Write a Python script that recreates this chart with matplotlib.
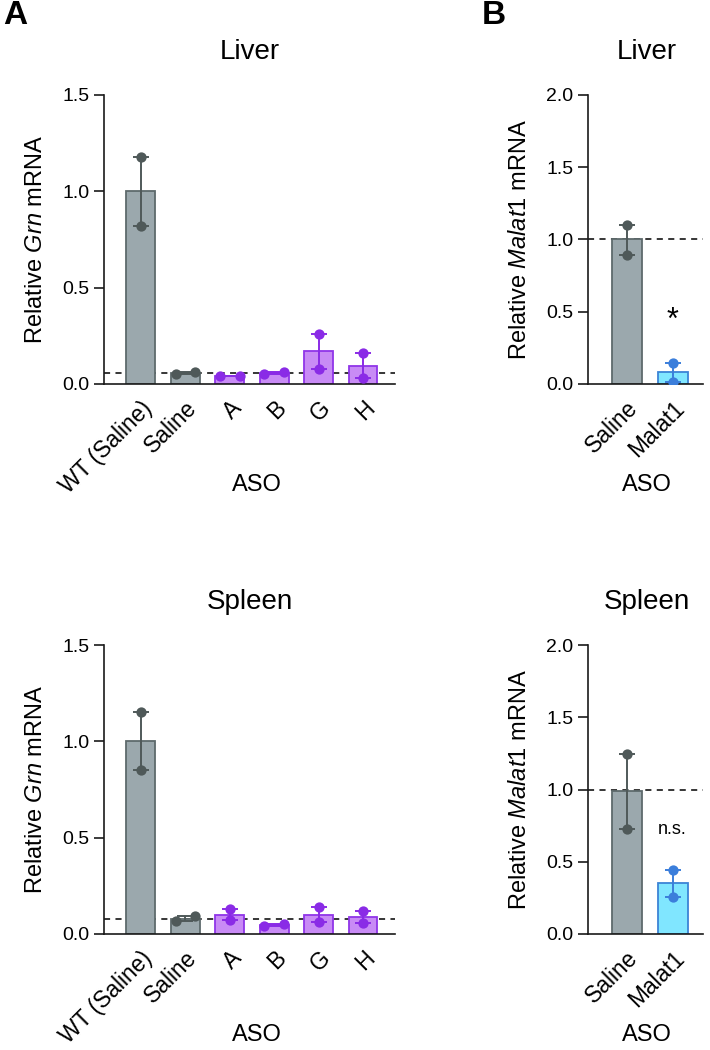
import matplotlib
matplotlib.use("Agg")
import matplotlib.pyplot as plt
import matplotlib.transforms as mtransforms
import numpy as np

plt.rcParams['font.family'] = ['Liberation Sans', 'DejaVu Sans']
plt.rcParams['mathtext.fontset'] = 'custom'
plt.rcParams['mathtext.rm'] = 'Liberation Sans'
plt.rcParams['mathtext.it'] = 'Liberation Sans:italic'

# ---------------- data ----------------
grn_groups = ["WT (Saline)", "Saline", "A", "B", "G", "H"]
grn_liver_bars = [1.00, 0.055, 0.04, 0.055, 0.17, 0.095]
grn_liver_pts = [[1.18, 0.82], [0.05, 0.06], [0.04, 0.04], [0.05, 0.06], [0.26, 0.08], [0.16, 0.03]]
grn_spleen_bars = [1.00, 0.08, 0.10, 0.045, 0.10, 0.087]
grn_spleen_pts = [[1.15, 0.85], [0.066, 0.094], [0.13, 0.075], [0.04, 0.05], [0.14, 0.06], [0.118, 0.057]]
grn_liver_ref = 0.055
grn_spleen_ref = 0.08

malat_groups = ["Saline", "Malat1"]
malat_liver_bars = [1.00, 0.08]
malat_liver_pts = [[1.10, 0.89], [0.143, 0.016]]
malat_spleen_bars = [0.99, 0.35]
malat_spleen_pts = [[1.247, 0.73], [0.44, 0.256]]
malat_ref = 1.0

grn_kinds = ["gray", "gray", "purple", "purple", "purple", "purple"]
malat_kinds = ["gray", "blue"]

# ---------------- style ----------------
STY = {
    "gray": dict(fill="#9BA8AD", edge="#5E6A6C", pt="#4F5959"),
    "purple": dict(fill="#C88BF5", edge="#9035E8", pt="#8A2BE6"),
    "blue": dict(fill="#80E6FF", edge="#3C84D6", pt="#3B7EDB"),
}

W, H = 710, 1050
fig = plt.figure(figsize=(W / 100, H / 100), dpi=100)


def add_ax(left, right, top, bottom):
    return fig.add_axes([left / W, 1 - bottom / H, (right - left) / W, (bottom - top) / H])


def ftext(x, y, s, **kw):
    fig.text(x / W, 1 - y / H, s, **kw)


def draw(ax, groups, bars, pts, kinds, ref, ylim, yticks, xlim, ylabel, jitter_thr, ylabel_x):
    x = np.arange(len(groups))
    for i, (b, p, k) in enumerate(zip(bars, pts, kinds)):
        st = STY[k]
        ax.bar(x[i], b, width=0.65, color=st["fill"], edgecolor=st["edge"], linewidth=1.3, zorder=2)
        lo, hi = min(p), max(p)
        ax.errorbar(x[i], b, yerr=[[b - lo], [hi - b]], color=st["pt"], elinewidth=1.4,
                    capsize=5.5, capthick=1.4, fmt="none", zorder=3)
        if abs(p[0] - p[1]) < jitter_thr:
            offs = [-0.22, 0.22]
        else:
            offs = [0, 0]
        ax.scatter(x[i] + np.array(offs), p, s=55, color=st["pt"], zorder=4, linewidths=0)
    ax.axhline(ref, color="black", lw=1.1, dashes=(4, 3.5), zorder=1)
    ax.set_xlim(*xlim)
    ax.set_ylim(*ylim)
    ax.set_yticks(yticks)
    ax.set_yticklabels([f"{t:.1f}" for t in yticks])
    ax.set_xticks(x)
    ax.set_xticklabels(groups, rotation=45, ha="right", va="top", rotation_mode="anchor", fontsize=16.5)
    offset = mtransforms.ScaledTranslation(8 / 100, 0, fig.dpi_scale_trans)
    for lab in ax.get_xticklabels():
        lab.set_transform(lab.get_transform() + offset)
    ax.tick_params(axis="x", length=0, pad=9)
    ax.tick_params(axis="y", length=7.5, width=1.2, labelsize=14, pad=3, color="#1a1a1a")
    for s in ["top", "right"]:
        ax.spines[s].set_visible(False)
    for s in ["left", "bottom"]:
        ax.spines[s].set_linewidth(1.2)
        ax.spines[s].set_color("#1a1a1a")
    ax.set_ylabel(ylabel, fontsize=17)
    ax.yaxis.set_label_coords(ylabel_x, 0.5)


# Panel A
axA1 = add_ax(104, 395, 95, 384)
draw(axA1, grn_groups, grn_liver_bars, grn_liver_pts, grn_kinds, grn_liver_ref,
     (0, 1.5), [0, 0.5, 1.0, 1.5], (-0.83, 5.72), r"Relative $\mathit{Grn}$ mRNA", 0.045, -0.196)
axA2 = add_ax(104, 395, 645, 934)
draw(axA2, grn_groups, grn_spleen_bars, grn_spleen_pts, grn_kinds, grn_spleen_ref,
     (0, 1.5), [0, 0.5, 1.0, 1.5], (-0.83, 5.72), r"Relative $\mathit{Grn}$ mRNA", 0.045, -0.196)

# Panel B
axB1 = add_ax(588, 703, 95, 384)
draw(axB1, malat_groups, malat_liver_bars, malat_liver_pts, malat_kinds, malat_ref,
     (0, 2.0), [0, 0.5, 1.0, 1.5, 2.0], (-0.84, 1.66), r"Relative $\mathit{Malat1}$ mRNA", 0.06, -0.50)
axB2 = add_ax(588, 703, 645, 934)
draw(axB2, malat_groups, malat_spleen_bars, malat_spleen_pts, malat_kinds, malat_ref,
     (0, 2.0), [0, 0.5, 1.0, 1.5, 2.0], (-0.84, 1.66), r"Relative $\mathit{Malat1}$ mRNA", 0.06, -0.50)

axB1.text(1, 0.44, "*", ha="center", va="center", fontsize=22)
axB2.text(1, 0.72, "n.s.", ha="center", va="center", fontsize=13)

# titles
ftext(250, 52, "Liver", ha="center", va="center", fontsize=20)
ftext(250, 602, "Spleen", ha="center", va="center", fontsize=20)
ftext(647, 52, "Liver", ha="center", va="center", fontsize=20)
ftext(647, 602, "Spleen", ha="center", va="center", fontsize=20)

# x-axis labels
ftext(257, 485, "ASO", ha="center", va="center", fontsize=17)
ftext(257, 1035, "ASO", ha="center", va="center", fontsize=17)
ftext(647, 485, "ASO", ha="center", va="center", fontsize=17)
ftext(647, 1035, "ASO", ha="center", va="center", fontsize=17)

# panel letters
ftext(15, 16, "A", ha="center", va="center", fontsize=24, fontweight="bold")
ftext(494, 16, "B", ha="center", va="center", fontsize=24, fontweight="bold")

fig.savefig("out.png", dpi=100)
